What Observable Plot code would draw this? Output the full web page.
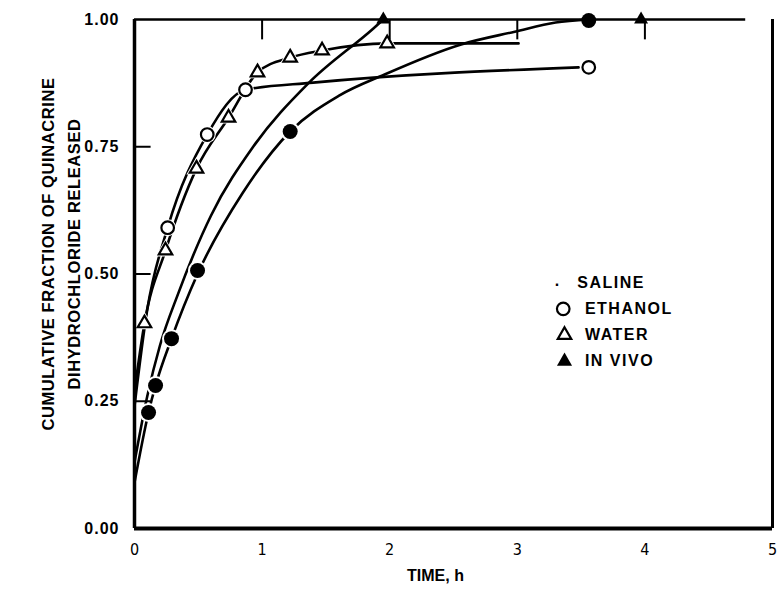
<!DOCTYPE html>
<html>
<head>
<meta charset="utf-8">
<script src="https://cdn.jsdelivr.net/npm/d3@7"></script>
<script src="https://cdn.jsdelivr.net/npm/@observablehq/plot@0.6"></script>
<style>
  body { margin: 0; background: #fff; }
  #chart svg { display: block; }
  g[aria-label="y-axis tick label"] text { letter-spacing: 1px; }
  g.legend-text text { letter-spacing: 1.5px; }
  g.y-title text { letter-spacing: 0.6px; }
</style>
</head>
<body>
<div id="chart"></div>
<script>
// ---- Data ----
const xTicks = [0, 1, 2, 3, 4, 5];
const yTicks = [0, 0.25, 0.5, 0.75, 1];
const topTicks = [1, 2, 3, 4];
const leftTicks = [0.25, 0.5, 0.75];

// measured points
const salineX = [0.11, 0.165, 0.29, 0.494, 1.22, 3.56];
const salineY = [0.228, 0.281, 0.373, 0.507, 0.78, 0.998];
const ethanolX = [0.26, 0.57, 0.87, 3.56];
const ethanolY = [0.591, 0.774, 0.862, 0.906];
const waterX = [0.078, 0.243, 0.486, 0.737, 0.964, 1.22, 1.47, 1.98];
const waterY = [0.403, 0.546, 0.707, 0.807, 0.896, 0.925, 0.939, 0.953];
const invivoX = [1.95, 3.97];
const invivoY = [1.0, 1.0];

// hand-drawn fitted curves
const salineCurveX = [0, 0.11, 0.165, 0.29, 0.494, 0.85, 1.22, 1.6, 1.96, 2.56, 2.98, 3.3, 3.56];
const salineCurveY = [0.09, 0.228, 0.281, 0.373, 0.5, 0.66, 0.78, 0.85, 0.892, 0.951, 0.976, 0.994, 1.0];
const ethanolCurveX = [0, 0.1, 0.26, 0.57, 0.87, 1.4, 3.48];
const ethanolCurveY = [0.24, 0.43, 0.591, 0.774, 0.862, 0.876, 0.906];
const waterCurveX = [0, 0.078, 0.243, 0.486, 0.737, 0.964, 1.22, 1.47, 1.98, 3.01];
const waterCurveY = [0.27, 0.403, 0.546, 0.707, 0.807, 0.896, 0.925, 0.939, 0.953, 0.953];
const invivoCurveX = [0, 0.1, 0.2, 0.34, 0.6, 0.93, 1.36, 1.87, 1.95];
const invivoCurveY = [0.13, 0.26, 0.36, 0.46, 0.615, 0.75, 0.874, 0.982, 1.0];

const legendLabels = ["SALINE", "ETHANOL", "WATER", "IN VIVO"];
const yTitle = "CUMULATIVE FRACTION OF QUINACRINE\nDIHYDROCHLORIDE RELEASED";
const xTitle = "TIME, h";

// ---- helpers ----
const pts = (xs, ys) => xs.map((x, i) => ({x, y: ys[i]}));
const saline = pts(salineX, salineY);
const ethanol = pts(ethanolX, ethanolY);
const water = pts(waterX, waterY);
const invivo = pts(invivoX, invivoY);

const font = "'Liberation Sans', Arial, Helvetica, sans-serif";
const legendRowY = i => 0.483 - i * 0.0515;
const legend = legendLabels.map((label, i) => ({label, i}));

const lineOpts = {x: "x", y: "y", curve: "monotone-x", stroke: "#000", strokeWidth: 2.6};

const chart = Plot.plot({
  width: 779,
  height: 589,
  marginLeft: 134,
  marginRight: 7,
  marginTop: 19,
  marginBottom: 61,
  x: {domain: [0, 5]},
  y: {domain: [0, 1]},
  style: {fontFamily: font, background: "#fff", color: "#000"},
  marks: [
    // fitted curves
    Plot.line(pts(salineCurveX, salineCurveY), lineOpts),
    Plot.line(pts(ethanolCurveX, ethanolCurveY), lineOpts),
    Plot.line(pts(waterCurveX, waterCurveY), lineOpts),
    Plot.line(pts(invivoCurveX, invivoCurveY), lineOpts),
    // white halos that break the lines at the markers
    Plot.dot(saline.slice(0, -1), {x: "x", y: "y", r: 9.5, fill: "#fff"}),
    Plot.dot(ethanol, {x: "x", y: "y", r: 8.5, fill: "#fff"}),
    Plot.dot(water, {x: "x", y: "y", symbol: "triangle", r: 7.5, fill: "#fff"}),
    // frame
    Plot.ruleX([0], {stroke: "#000", strokeWidth: 3.5}),
    Plot.ruleY([0], {stroke: "#000", strokeWidth: 4}),
    Plot.ruleY([1], {x1: 0, x2: 4.79, stroke: "#000", strokeWidth: 2.6}),
    Plot.ruleX([5], {y1: 0, y2: 1, stroke: "#000", strokeWidth: 3}),
    // inner tick marks
    Plot.ruleY(leftTicks, {x1: 0, x2: 0.13, stroke: "#000", strokeWidth: 2}),
    Plot.ruleX(topTicks, {y1: 1, y2: 0.96, stroke: "#000", strokeWidth: 2}),
    // markers
    Plot.dot(saline, {x: "x", y: "y", r: 7.5, fill: "#000"}),
    Plot.dot(ethanol, {x: "x", y: "y", r: 6.3, fill: "#fff", stroke: "#000", strokeWidth: 2.2}),
    Plot.dot(water, {x: "x", y: "y", symbol: "triangle", r: 5, fill: "#fff", stroke: "#000", strokeWidth: 2.2}),
    Plot.dot(invivo, {x: "x", y: "y", symbol: "triangle", r: 5.2, fill: "#000"}),
    // axes
    Plot.axisX({ticks: xTicks, tickSize: 0, tickPadding: 15, tickFormat: d => String(d), label: null,
      fontSize: 16, fontFamily: "'Liberation Sans Narrow', 'DejaVu Sans Condensed', 'Liberation Sans', sans-serif"}),
    Plot.axisY({ticks: yTicks, tickSize: 0, tickPadding: 15, tickFormat: d => d.toFixed(2), label: null,
      fontSize: 16, fontWeight: "bold"}),
    // axis titles
    Plot.text([yTitle], {text: d => d, frameAnchor: "left", rotate: -90, dx: -76, dy: -20,
      fontSize: 16.5, fontWeight: "bold", lineHeight: 1.62, textAnchor: "middle", className: "y-title"}),
    Plot.text([xTitle], {text: d => d, frameAnchor: "bottom", dx: -18, dy: 52,
      fontSize: 16, fontWeight: "bold", textAnchor: "middle"}),
    // legend
    Plot.text(legend.slice(0, 1), {x: () => 3.31, y: d => legendRowY(d.i), text: () => ".", dy: -2,
      fontSize: 16, fontWeight: "bold", textAnchor: "middle"}),
    Plot.dot(legend.slice(1, 2), {x: () => 3.36, y: d => legendRowY(d.i), r: 6.3, fill: "#fff", stroke: "#000", strokeWidth: 2.2}),
    Plot.dot(legend.slice(2, 3), {x: () => 3.37, y: d => legendRowY(d.i), symbol: "triangle", r: 5, fill: "#fff", stroke: "#000", strokeWidth: 2.2}),
    Plot.dot(legend.slice(3, 4), {x: () => 3.37, y: d => legendRowY(d.i), symbol: "triangle", r: 5.6, fill: "#000"}),
    Plot.text(legend, {x: d => d.i === 0 ? 3.47 : 3.53, y: d => legendRowY(d.i), text: "label",
      textAnchor: "start", fontSize: 16, fontWeight: "bold", className: "legend-text"})
  ]
});
document.getElementById("chart").appendChild(chart);
</script>
</body>
</html>
